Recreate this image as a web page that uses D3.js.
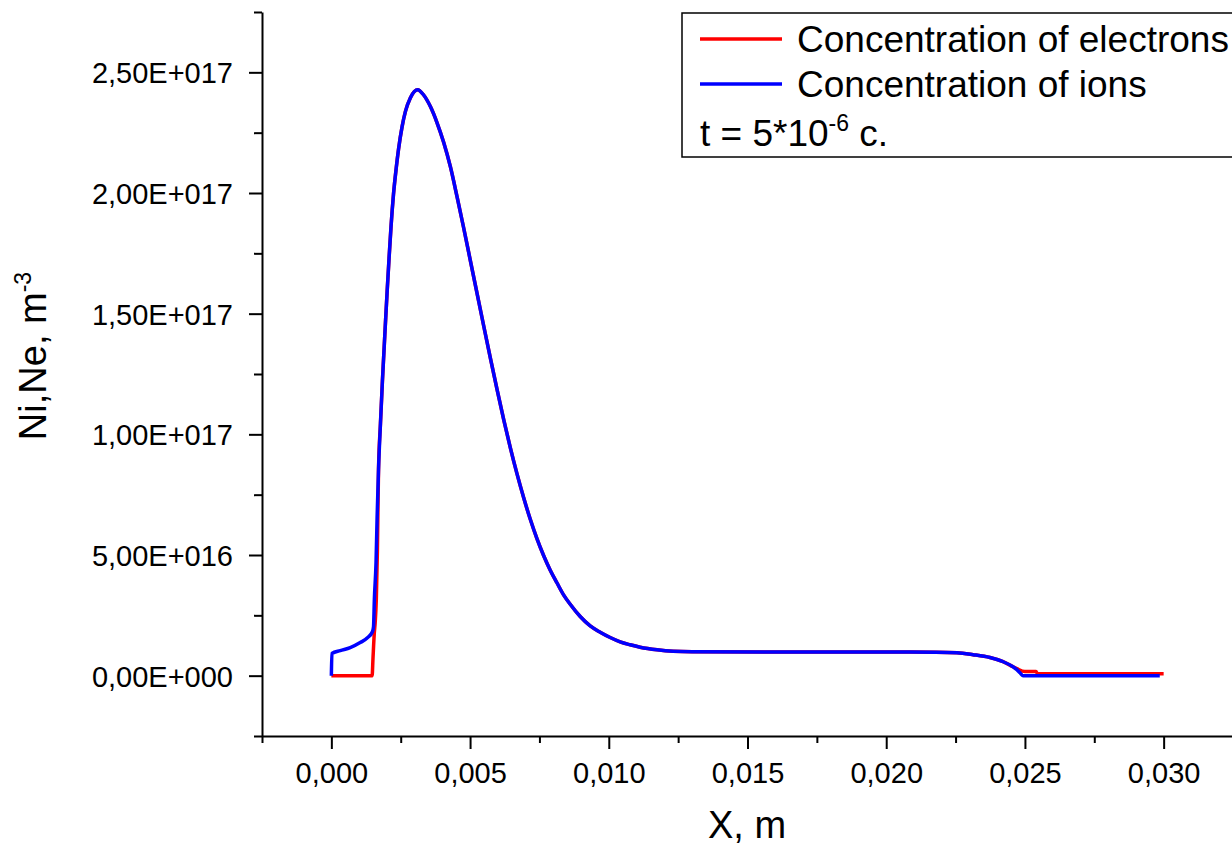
<!DOCTYPE html>
<html><head><meta charset="utf-8">
<script src="https://cdn.jsdelivr.net/npm/d3@7/dist/d3.min.js"></script>
<style>
body{margin:0;background:#fff}
svg{display:block}
text{font-family:"Liberation Sans",Arial,Helvetica,sans-serif;fill:#000}
</style>
</head><body><svg id="c" width="1232" height="846"></svg>
<script>
// ---- data ----
const xTicks = [0, 0.005, 0.010, 0.015, 0.020, 0.025, 0.030];
const xTickLabels = ["0,000", "0,005", "0,010", "0,015", "0,020", "0,025", "0,030"];
const xMinorTicks = [-0.0025, 0.0025, 0.0075, 0.0125, 0.0175, 0.0225, 0.0275, 0.0325];
const yTicks = [0, 5e16, 1e17, 1.5e17, 2e17, 2.5e17];
const yTickLabels = ["0,00E+000", "5,00E+016", "1,00E+017", "1,50E+017", "2,00E+017", "2,50E+017"];
const yMinorTicks = [-2.5e16, 2.5e16, 7.5e16, 1.25e17, 1.75e17, 2.25e17, 2.75e17];

const ionX = [0, 0.00002, 0.00032, 0.00068, 0.00104, 0.00130, 0.00148, 0.00152, 0.00155, 0.00161,
  0.00165, 0.00170, 0.00177, 0.00184, 0.00191, 0.00196, 0.00201, 0.00208, 0.00215, 0.00224,
  0.00234, 0.00242, 0.00255, 0.00267, 0.00285, 0.00311, 0.00332, 0.00357, 0.00381, 0.00405,
  0.00429, 0.00453, 0.00477, 0.00501, 0.00525, 0.00549, 0.00573, 0.00597, 0.00621, 0.00645,
  0.00669, 0.00693, 0.00717, 0.00741, 0.00765, 0.00789, 0.00813, 0.00837, 0.00861, 0.00897,
  0.00933, 0.00969, 0.01005, 0.01041, 0.01077, 0.01113, 0.01174, 0.01232, 0.0130, 0.0160,
  0.0190, 0.0218, 0.02255, 0.02313, 0.02374, 0.02421, 0.02457, 0.02471, 0.02482, 0.02493,
  0.0260, 0.0280, 0.02986];
const ionN = [0, 0.92e16, 1.04e16, 1.16e16, 1.37e16, 1.57e16, 1.82e16, 2.03e16, 3.15e16, 4.68e16,
  6.59e16, 8.54e16, 10.45e16, 12.20e16, 13.75e16, 14.85e16, 15.90e16, 17.30e16, 18.60e16, 19.95e16,
  21.05e16, 21.80e16, 22.75e16, 23.38e16, 23.95e16, 24.28e16, 24.07e16, 23.58e16, 22.91e16, 22.09e16,
  21.09e16, 19.85e16, 18.55e16, 17.20e16, 15.85e16, 14.50e16, 13.17e16, 11.87e16, 10.62e16, 9.45e16,
  8.37e16, 7.38e16, 6.48e16, 5.68e16, 4.98e16, 4.37e16, 3.85e16, 3.35e16, 2.96e16, 2.45e16,
  2.06e16, 1.80e16, 1.58e16, 1.40e16, 1.28e16, 1.18e16, 1.07e16, 1.01e16, 0.99e16, 0.98e16,
  0.98e16, 0.97e16, 0.95e16, 0.87e16, 0.75e16, 0.58e16, 0.37e16, 0.25e16, 0.12e16, 0,
  0, 0, 0];

const elecX = [0, 0.00147, 0.00150, 0.00155, 0.00158, 0.00162, 0.00166,
  0.00170, 0.00177, 0.00184, 0.00191, 0.00196, 0.00201, 0.00208, 0.00215, 0.00224,
  0.00234, 0.00242, 0.00255, 0.00267, 0.00285, 0.00311, 0.00332, 0.00357, 0.00381, 0.00405,
  0.00429, 0.00453, 0.00477, 0.00501, 0.00525, 0.00549, 0.00573, 0.00597, 0.00621, 0.00645,
  0.00669, 0.00693, 0.00717, 0.00741, 0.00765, 0.00789, 0.00813, 0.00837, 0.00861, 0.00897,
  0.00933, 0.00969, 0.01005, 0.01041, 0.01077, 0.01113, 0.01174, 0.01232, 0.0130, 0.0160,
  0.0190, 0.0218, 0.02255, 0.02313, 0.02374, 0.02421, 0.02457, 0.02471, 0.02500, 0.02540,
  0.02545, 0.03000];
const elecN = [0, 0, 0.70e16, 1.80e16, 2.20e16, 3.15e16, 5.2e16,
  8.54e16, 10.45e16, 12.20e16, 13.75e16, 14.85e16, 15.90e16, 17.30e16, 18.60e16, 19.95e16,
  21.05e16, 21.80e16, 22.75e16, 23.38e16, 23.95e16, 24.28e16, 24.07e16, 23.58e16, 22.91e16, 22.09e16,
  21.09e16, 19.85e16, 18.55e16, 17.20e16, 15.85e16, 14.50e16, 13.17e16, 11.87e16, 10.62e16, 9.45e16,
  8.37e16, 7.38e16, 6.48e16, 5.68e16, 4.98e16, 4.37e16, 3.85e16, 3.35e16, 2.96e16, 2.45e16,
  2.06e16, 1.80e16, 1.58e16, 1.40e16, 1.28e16, 1.18e16, 1.07e16, 1.01e16, 0.99e16, 0.98e16,
  0.98e16, 0.97e16, 0.95e16, 0.87e16, 0.75e16, 0.58e16, 0.37e16, 0.29e16, 0.17e16, 0.17e16,
  0.08e16, 0.08e16];

const seriesNames = ["Concentration of electrons", "Concentration of ions"];
const seriesColors = ["#ff0000", "#0000ff"];

// ---- chart ----
const svg = d3.select("#c");
const x = d3.scaleLinear().domain([-0.0025, 0.0325]).range([262, 1233]);
const y = d3.scaleLinear().domain([-2.5e16, 2.75e17]).range([736, 12]);

function styleAxis(g){
  g.selectAll("path,line").attr("stroke", "#000").attr("stroke-width", 2);
  g.selectAll("text").attr("font-size", 29).attr("fill", "#000");
}

// x minor
svg.append("g").attr("transform", "translate(0,736)")
  .call(d3.axisBottom(x).tickValues(xMinorTicks).tickSize(7).tickSizeOuter(0).tickFormat(""))
  .call(g => g.select(".domain").remove()).call(styleAxis);
// x major
svg.append("g").attr("transform", "translate(0,736)")
  .call(d3.axisBottom(x).tickValues(xTicks).tickSize(13).tickSizeOuter(0).tickPadding(13)
    .tickFormat((d, i) => xTickLabels[i]))
  .call(styleAxis);
// y minor
svg.append("g").attr("transform", "translate(262,0)")
  .call(d3.axisLeft(y).tickValues(yMinorTicks).tickSize(8).tickSizeOuter(0).tickFormat(""))
  .call(g => g.select(".domain").remove()).call(styleAxis);
// y major
svg.append("g").attr("transform", "translate(262,0)")
  .call(d3.axisLeft(y).tickValues(yTicks).tickSize(13).tickSizeOuter(0).tickPadding(16)
    .tickFormat((d, i) => yTickLabels[i]))
  .call(styleAxis)
  .call(g => g.selectAll("text").attr("dy", "0.36em"));

// lines
const line = d3.line().x(d => x(d[0])).y(d => y(d[1])).curve(d3.curveMonotoneX);
const elec = elecX.map((v, i) => [v, elecN[i]]);
const ion = ionX.map((v, i) => [v, ionN[i]]);
svg.append("path").datum(elec).attr("d", line).attr("fill", "none")
  .attr("stroke", seriesColors[0]).attr("stroke-width", 3.5).attr("stroke-linejoin", "round");
svg.append("path").datum(ion).attr("d", line).attr("fill", "none")
  .attr("stroke", seriesColors[1]).attr("stroke-width", 3.5).attr("stroke-linejoin", "round");

// axis titles
svg.append("text").attr("x", 747).attr("y", 838).attr("text-anchor", "middle")
  .attr("font-size", 38).text("X, m");
const yt = svg.append("text").attr("transform", "translate(46,356) rotate(-90)")
  .attr("text-anchor", "middle").attr("font-size", 38);
yt.append("tspan").text("Ni,Ne, m");
yt.append("tspan").attr("font-size", 23).attr("dy", -15).text("-3");

// legend
const lg = svg.append("g");
lg.append("rect").attr("x", 682).attr("y", 13).attr("width", 600).attr("height", 144)
  .attr("fill", "#fff").attr("stroke", "#000").attr("stroke-width", 1.5);
const rowsY = [39, 84];
seriesNames.forEach((n, i) => {
  lg.append("line").attr("x1", 700).attr("x2", 782).attr("y1", rowsY[i]).attr("y2", rowsY[i])
    .attr("stroke", seriesColors[i]).attr("stroke-width", 3.5);
  lg.append("text").attr("x", 797).attr("y", rowsY[i] + 13).attr("font-size", 37).text(n);
});
const tt = lg.append("text").attr("x", 700).attr("y", 146).attr("font-size", 37);
tt.append("tspan").text("t = 5*10");
tt.append("tspan").attr("font-size", 23).attr("dy", -15).text("-6");
tt.append("tspan").attr("dy", 15).text(" c.");
</script></body></html>
